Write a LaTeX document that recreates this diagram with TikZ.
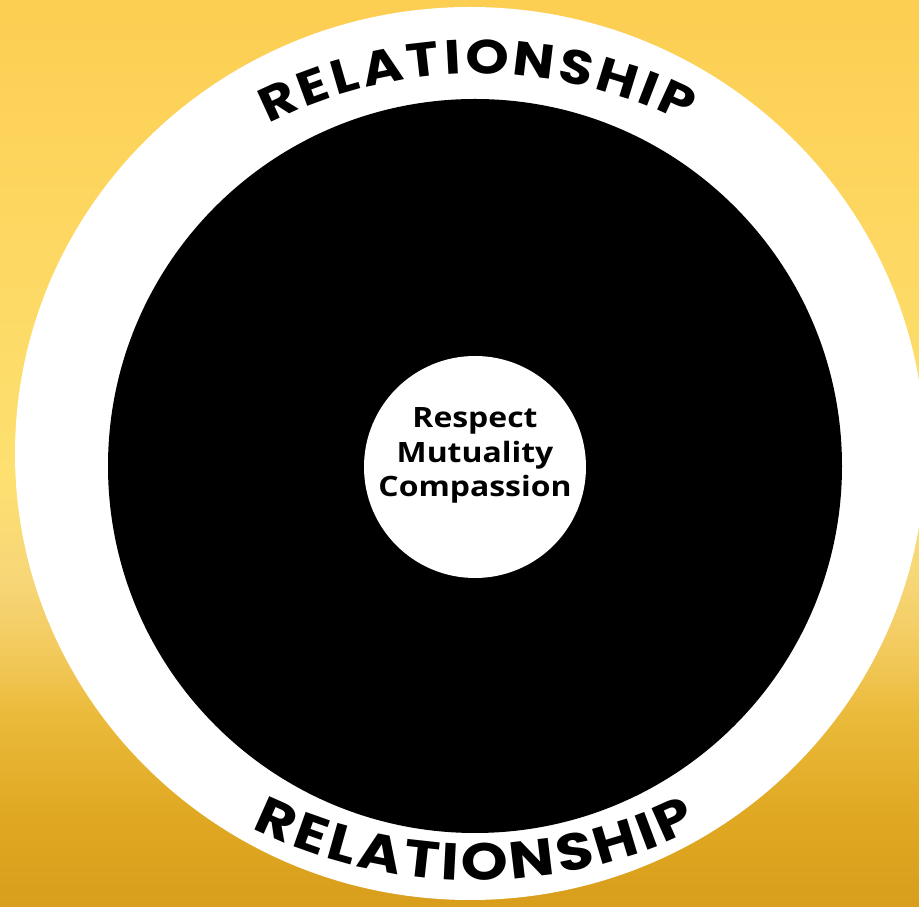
\documentclass[tikz,border=0pt]{standalone}
\usepackage{fontspec}
\newfontfamily\ringfont{Poppins}[FakeStretch=1.15]
\newfontfamily\corefont{Open Sans}[FakeStretch=1.14]
\definecolor{bgtop}{RGB}{252,206,82}
\definecolor{bgup}{RGB}{253,214,95}
\definecolor{bgmid}{RGB}{253,224,112}
\definecolor{bgpale}{RGB}{247,214,120}
\definecolor{bgpale2}{RGB}{243,203,95}
\definecolor{bglow2}{RGB}{234,186,58}
\definecolor{bglow}{RGB}{224,168,34}
\definecolor{bgbot}{RGB}{216,158,28}
% the path's bounding box spans 25bp..75bp of the shading
\pgfdeclareverticalshading{bgshade}{100bp}{color(0bp)=(bgbot); color(25bp)=(bgbot); color(30bp)=(bglow); color(35.5bp)=(bglow2); color(39.5bp)=(bgpale2); color(43bp)=(bgpale); color(49bp)=(bgmid); color(64bp)=(bgup); color(75bp)=(bgtop); color(100bp)=(bgtop)}
\newdimen\arcpos
\newcommand\topfont{\ringfont\bfseries\fontsize{48}{48}\selectfont}
\newcommand\botfont{\ringfont\bfseries\fontsize{52}{52}\selectfont}
% measure letter widths outside the picture: #1 font, #2 prefix
\newcommand\measureword[2]{%
  \setbox0=\hbox{#1RELATIONSHIP}\expandafter\xdef\csname #2tot\endcsname{\the\wd0}%
  \foreach \c in {R,E,L,A,T,I,O,N,S,H,P}{%
    \setbox0=\hbox{#1\c}\expandafter\xdef\csname #2w\c\endcsname{\the\wd0}}}
% #1 font, #2 prefix, #3 cx, #4 cy, #5 radius, #6 middle angle, #7 direction, #8 tracking, #9 rotation offset
\newcommand\arcword[9]{%
  \global\arcpos=0pt
  \foreach \ch [count=\i] in {R,E,L,A,T,I,O,N,S,H,I,P}{%
    \edef\curw{\csname #2w\ch\endcsname}%
    \edef\curtot{\csname #2tot\endcsname}%
    \pgfmathsetmacro\ang{#6 + #7*((\the\arcpos + 0.5*\curw) - 0.5*(\curtot + 11*#8))/#5*180/pi}%
    \node[ringletter, font=#1, rotate=\ang+#9] (#2\i) at ([shift={(\ang:#5)}]#3,#4) {\ch};
    \global\advance\arcpos by \curw\relax
    \global\advance\arcpos by #8pt\relax
  }}
\begin{document}
\measureword{\topfont}{top}%
\measureword{\botfont}{bot}%
\begin{tikzpicture}[x=1pt,y=1pt,
  ringletter/.style={inner sep=0pt, text=black},
  coreline/.style={inner sep=0pt, anchor=base, text=black, font=\corefont\bfseries\fontsize{28}{35}\selectfont}]
\useasboundingbox (0,0) rectangle (919,907);
\shade[shading=bgshade] (0,0) rectangle (919,907);
\begin{scope}
\clip (0,0) rectangle (919,907);
\fill[white] (470,453.5) ellipse [x radius=455, y radius=446.5];
\end{scope}
\fill[black] (475,441) circle [radius=367];
\fill[white] (475,440) circle [radius=111];
% top arc letters
\arcword{\topfont}{top}{477}{373}{477}{90}{-1}{5}{-90}
% bottom arc letters
\arcword{\botfont}{bot}{475}{532}{487}{270}{1}{2}{90}
% core text
\node[coreline] (l1) at (475,479) {Respect};
\node[coreline] (l2) at (475,444) {Mutuality};
\node[coreline] (l3) at (475,410) {Compassion};
\end{tikzpicture}
\end{document}
